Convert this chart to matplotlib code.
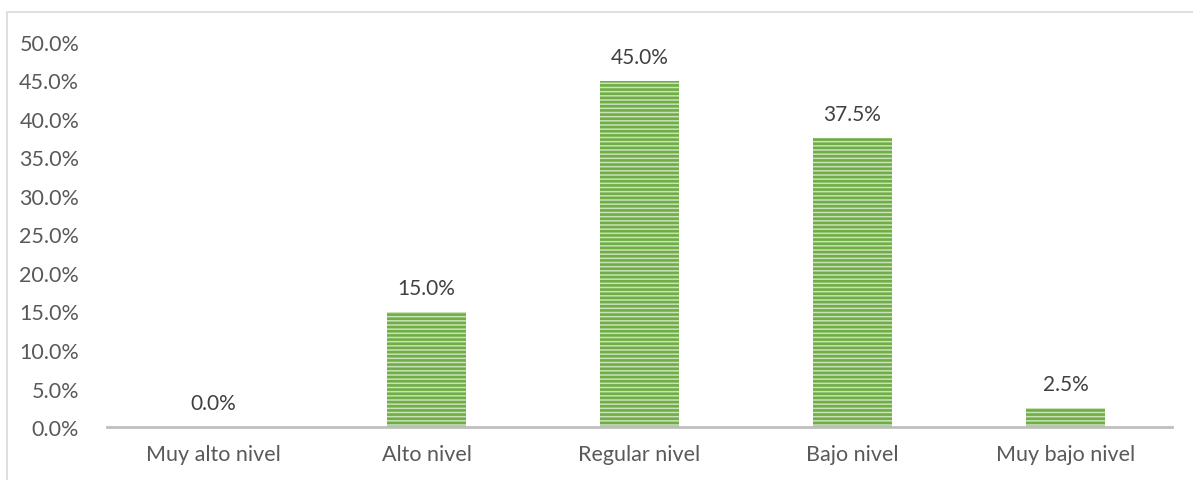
import matplotlib.pyplot as plt
from matplotlib.patches import Rectangle
from matplotlib.ticker import PercentFormatter

plt.rcParams['font.family'] = ['Lato', 'DejaVu Sans']
plt.rcParams['hatch.linewidth'] = 1.9

# Data
categories = ['Muy alto nivel', 'Alto nivel', 'Regular nivel', 'Bajo nivel', 'Muy bajo nivel']
percentages = [0.0, 15.0, 45.0, 37.5, 2.5]

fig = plt.figure(figsize=(11.93, 4.81), dpi=100)
ax = fig.add_axes([107 / 1193, 1 - 428 / 481, (1172 - 107) / 1193, (428 - 43) / 481])

# outer chart border (partly cut off like in the original)
fig.patches.append(Rectangle((7 / 1193, -0.1), 1.2, 1 - 13 / 481 + 0.1,
                             transform=fig.transFigure, fill=False,
                             edgecolor='#d9d9d9', linewidth=1.2))

x = range(len(categories))
bars = ax.bar(x, percentages, width=0.375, facecolor='#c9e3b8',
              edgecolor='#70ad47', hatch='----', linewidth=0)

for xi, v in zip(x, percentages):
    ax.annotate(f'{v:.1f}%', (xi, v), xytext=(0, 10), textcoords='offset points',
                ha='center', va='bottom', fontsize=15, color='#404040')

ax.set_xlim(-0.5, len(categories) - 0.5)
ax.set_ylim(0, 50)
ax.set_yticks([i * 5 for i in range(11)])
ax.yaxis.set_major_formatter(PercentFormatter(decimals=1))
ax.set_xticks(list(x))
ax.set_xticklabels(categories)

ax.tick_params(axis='both', length=0, labelsize=15.5, labelcolor='#595959')
ax.tick_params(axis='y', pad=20)
ax.tick_params(axis='x', pad=12)

for side in ['top', 'right', 'left']:
    ax.spines[side].set_visible(False)
ax.spines['bottom'].set_color('#bfbfbf')
ax.spines['bottom'].set_linewidth(2)

fig.savefig('out.png', dpi=100, facecolor='white')
